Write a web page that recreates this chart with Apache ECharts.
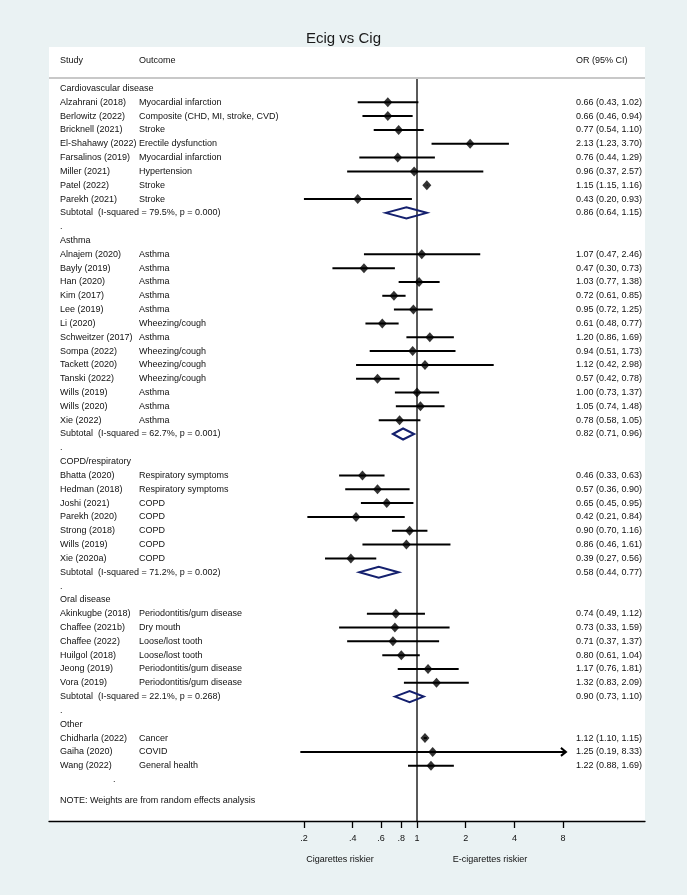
<!DOCTYPE html>
<html><head><meta charset="utf-8">
<script src="https://cdn.jsdelivr.net/npm/echarts@6/dist/echarts.min.js"></script>
<style>html,body{margin:0;padding:0;background:#eaf2f3}#c{width:687px;height:895px}</style>
</head><body><div id="c"></div><script>
// ---------- DATA ----------
const groupNames = ['Cardiovascular disease', 'Asthma', 'COPD/respiratory', 'Oral disease', 'Other'];
const studies = [
  'Alzahrani (2018)', 'Berlowitz (2022)', 'Bricknell (2021)', 'El-Shahawy (2022)', 'Farsalinos (2019)', 'Miller (2021)', 'Patel (2022)', 'Parekh (2021)',
  'Alnajem (2020)', 'Bayly (2019)', 'Han (2020)', 'Kim (2017)', 'Lee (2019)', 'Li (2020)', 'Schweitzer (2017)', 'Sompa (2022)', 'Tackett (2020)', 'Tanski (2022)', 'Wills (2019)', 'Wills (2020)', 'Xie (2022)',
  'Bhatta (2020)', 'Hedman (2018)', 'Joshi (2021)', 'Parekh (2020)', 'Strong (2018)', 'Wills (2019)', 'Xie (2020a)',
  'Akinkugbe (2018)', 'Chaffee (2021b)', 'Chaffee (2022)', 'Huilgol (2018)', 'Jeong (2019)', 'Vora (2019)',
  'Chidharla (2022)', 'Gaiha (2020)', 'Wang (2022)'
];
const outcomes = [
  'Myocardial infarction', 'Composite (CHD, MI, stroke, CVD)', 'Stroke', 'Erectile dysfunction', 'Myocardial infarction', 'Hypertension', 'Stroke', 'Stroke',
  'Asthma', 'Asthma', 'Asthma', 'Asthma', 'Asthma', 'Wheezing/cough', 'Asthma', 'Wheezing/cough', 'Wheezing/cough', 'Wheezing/cough', 'Asthma', 'Asthma', 'Asthma',
  'Respiratory symptoms', 'Respiratory symptoms', 'COPD', 'COPD', 'COPD', 'COPD', 'COPD',
  'Periodontitis/gum disease', 'Dry mouth', 'Loose/lost tooth', 'Loose/lost tooth', 'Periodontitis/gum disease', 'Periodontitis/gum disease',
  'Cancer', 'COVID', 'General health'
];
const studyGroup = [
  0, 0, 0, 0, 0, 0, 0, 0,
  1, 1, 1, 1, 1, 1, 1, 1, 1, 1, 1, 1, 1,
  2, 2, 2, 2, 2, 2, 2,
  3, 3, 3, 3, 3, 3,
  4, 4, 4
];
const orVals = [
  0.66, 0.66, 0.77, 2.13, 0.76, 0.96, 1.15, 0.43,
  1.07, 0.47, 1.03, 0.72, 0.95, 0.61, 1.20, 0.94, 1.12, 0.57, 1.00, 1.05, 0.78,
  0.46, 0.57, 0.65, 0.42, 0.90, 0.86, 0.39,
  0.74, 0.73, 0.71, 0.80, 1.17, 1.32,
  1.12, 1.25, 1.22
];
const loVals = [
  0.43, 0.46, 0.54, 1.23, 0.44, 0.37, 1.15, 0.20,
  0.47, 0.30, 0.77, 0.61, 0.72, 0.48, 0.86, 0.51, 0.42, 0.42, 0.73, 0.74, 0.58,
  0.33, 0.36, 0.45, 0.21, 0.70, 0.46, 0.27,
  0.49, 0.33, 0.37, 0.61, 0.76, 0.83,
  1.10, 0.19, 0.88
];
const hiVals = [
  1.02, 0.94, 1.10, 3.70, 1.29, 2.57, 1.16, 0.93,
  2.46, 0.73, 1.38, 0.85, 1.25, 0.77, 1.69, 1.73, 2.98, 0.78, 1.37, 1.48, 1.05,
  0.63, 0.90, 0.95, 0.84, 1.16, 1.61, 0.56,
  1.12, 1.59, 1.37, 1.04, 1.81, 2.09,
  1.15, 8.33, 1.69
];
const subGroup = [0, 1, 2, 3];
const subI2 = [79.5, 62.7, 71.2, 22.1];
const subP = [0.000, 0.001, 0.002, 0.268];
const subOR = [0.86, 0.82, 0.58, 0.90];
const subLo = [0.64, 0.71, 0.44, 0.73];
const subHi = [1.15, 0.96, 0.77, 1.10];
const tickVals = [0.2, 0.4, 0.6, 0.8, 1, 2, 4, 8];
const tickLabels = ['.2', '.4', '.6', '.8', '1', '2', '4', '8'];
const headers = ['Study', 'Outcome', 'OR (95% CI)'];
const noteText = 'NOTE: Weights are from random effects analysis';

// ---------- LAYOUT (build rows) ----------
const FONT = '9px "Liberation Sans", Arial, sans-serif';
const colX = [60, 139, 576, 113];      // page-pixel columns on hidden axis
const clipHi = tickVals[tickVals.length - 1];
const fmt = (o, l, h) => `${o.toFixed(2)} (${l.toFixed(2)}, ${h.toFixed(2)})`;

const textItems = [];
const ciData = [], ptData = [], diaData = [];
headers.forEach((h, i) => textItems.push({ col: i, row: -2, text: h }));
let r = 0;
groupNames.forEach((g, gi) => {
  textItems.push({ col: 0, row: r, text: g }); r++;
  studies.forEach((s, i) => {
    if (studyGroup[i] !== gi) return;
    textItems.push({ col: 0, row: r, text: s });
    textItems.push({ col: 1, row: r, text: outcomes[i] });
    textItems.push({ col: 2, row: r, text: fmt(orVals[i], loVals[i], hiVals[i]) });
    ciData.push([loVals[i], hiVals[i], r]);
    ptData.push([orVals[i], r]);
    r++;
  });
  const si = subGroup.indexOf(gi);
  if (si >= 0) {
    textItems.push({ col: 0, row: r, text: `Subtotal  (I-squared = ${subI2[si].toFixed(1)}%, p = ${subP[si].toFixed(3)})` });
    textItems.push({ col: 2, row: r, text: fmt(subOR[si], subLo[si], subHi[si]) });
    diaData.push([subLo[si], subOR[si], subHi[si], r]);
    r++;
    textItems.push({ col: 0, row: r, text: '.' });
    r++;
  }
});
textItems.push({ col: 3, row: r, text: '.' });
textItems.push({ col: 0, row: r + 1.5, text: noteText });

const Y_MIN = -3, Y_MAX = 53, SEP_ROW = -0.76;

const chart = echarts.init(document.getElementById('c'), null, { renderer: 'canvas' });
chart.setOption({
  animation: false,
  backgroundColor: '#eaf2f3',
  title: {
    text: 'Ecig vs Cig', left: 'center', top: 26,
    textStyle: { fontSize: 15, fontWeight: 'normal', color: '#1a1a1a', fontFamily: '"Liberation Sans", Arial, sans-serif' }
  },
  grid: { left: 49, right: 42, top: 47, bottom: 74, show: true, backgroundColor: '#ffffff', borderWidth: 0, containLabel: false },
  xAxis: [
    {
      type: 'log', logBase: 2, min: 0.00531, max: 25.67, position: 'bottom',
      axisLine: { show: true, onZero: false, lineStyle: { color: '#000', width: 1.3 } },
      axisTick: { show: true, customValues: tickVals, length: 7, lineStyle: { color: '#000', width: 1.3 } },
      axisLabel: {
        show: true, customValues: tickVals, margin: 13, color: '#111', fontSize: 9,
        fontFamily: '"Liberation Sans", Arial, sans-serif',
        formatter: v => { const k = tickVals.findIndex(t => Math.abs(t - v) / t < 1e-3); return k >= 0 ? tickLabels[k] : ''; }
      },
      splitLine: { show: false }, minorTick: { show: false }
    },
    { type: 'value', min: 49, max: 645, show: false }
  ],
  yAxis: { type: 'value', inverse: true, min: Y_MIN, max: Y_MAX, show: false },
  graphic: [
    { type: 'line', shape: { x1: 49, y1: 78, x2: 645, y2: 78 }, style: { stroke: '#c8c8c8', lineWidth: 2 }, z: 5 },
    { type: 'text', x: 340, y: 860, style: { text: 'Cigarettes riskier', font: FONT, fill: '#111', textAlign: 'center', textVerticalAlign: 'middle', align: 'center', verticalAlign: 'middle' } },
    { type: 'text', x: 490, y: 860, style: { text: 'E-cigarettes riskier', font: FONT, fill: '#111', textAlign: 'center', textVerticalAlign: 'middle', align: 'center', verticalAlign: 'middle' } }
  ],
  series: [
    { // null line at OR = 1
      type: 'custom', xAxisIndex: 0, yAxisIndex: 0, z: 1, silent: true, clip: false,
      data: [[1, SEP_ROW]], encode: { x: 0, y: 1 },
      renderItem: (p, api) => {
        const a = api.coord([api.value(0), SEP_ROW]), b = api.coord([api.value(0), Y_MAX]);
        return { type: 'line', shape: { x1: a[0], y1: a[1], x2: b[0], y2: b[1] }, style: { stroke: '#000', lineWidth: 1.3 } };
      }
    },
    { // confidence intervals
      type: 'custom', xAxisIndex: 0, yAxisIndex: 0, z: 2, silent: true, clip: false,
      data: ciData, encode: { x: [0, 1], y: 2 },
      renderItem: (p, api) => {
        const a = api.coord([api.value(0), api.value(2)]), b = api.coord([api.value(1), api.value(2)]);
        const children = [{ type: 'line', shape: { x1: a[0], y1: a[1], x2: b[0], y2: b[1] }, style: { stroke: '#000', lineWidth: 2 } }];
        if (api.value(1) > clipHi) {
          children.push({ type: 'polyline', shape: { points: [[b[0] - 5, b[1] - 4], [b[0], b[1]], [b[0] - 5, b[1] + 4]] }, style: { stroke: '#000', lineWidth: 2, fill: null } });
        }
        return { type: 'group', children };
      }
    },
    { // point estimates
      type: 'scatter', xAxisIndex: 0, yAxisIndex: 0, z: 3, silent: true,
      data: ptData, symbol: 'diamond', symbolSize: [9, 10], itemStyle: { color: '#000' }
    },
    { // subtotal diamonds
      type: 'custom', xAxisIndex: 0, yAxisIndex: 0, z: 3, silent: true, clip: false,
      data: diaData, encode: { x: [0, 1, 2], y: 3 },
      renderItem: (p, api) => {
        const y = api.value(3);
        const l = api.coord([api.value(0), y]), m = api.coord([api.value(1), y]), h = api.coord([api.value(2), y]);
        return { type: 'polygon', shape: { points: [l, [m[0], m[1] - 5.5], h, [m[0], m[1] + 5.5]] }, style: { fill: 'none', stroke: '#14206e', lineWidth: 2 } };
      }
    },
    { // text columns
      type: 'custom', xAxisIndex: 1, yAxisIndex: 0, z: 4, silent: true, clip: false,
      data: textItems.map(t => [colX[t.col], t.row]), encode: { x: 0, y: 1 },
      renderItem: (p, api) => {
        const t = textItems[p.dataIndex];
        const pt = api.coord([api.value(0), api.value(1)]);
        return { type: 'text', x: pt[0], y: pt[1], style: { text: t.text, font: FONT, fill: '#111', textAlign: 'left', textVerticalAlign: 'middle', align: 'left', verticalAlign: 'middle' } };
      }
    }
  ]
});
</script></body></html>
